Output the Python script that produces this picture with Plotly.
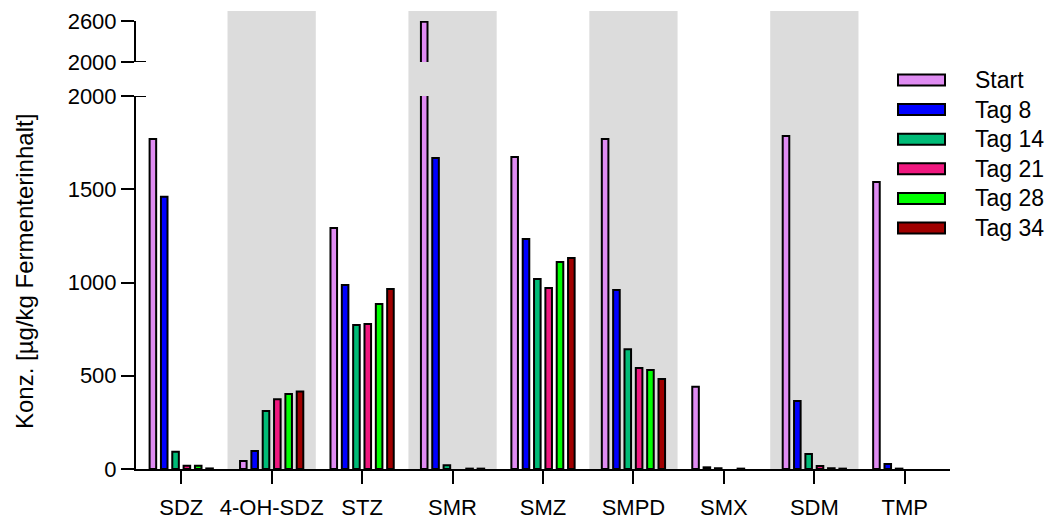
import plotly.graph_objects as go

categories = ["SDZ", "4-OH-SDZ", "STZ", "SMR", "SMZ", "SMPD", "SMX", "SDM", "TMP"]
series_names = ["Start", "Tag 8", "Tag 14", "Tag 21", "Tag 28", "Tag 34"]
start = [1770, 43, 1292, 2590, 1673, 1769, 441, 1786, 1539]
tag8 = [1460, 97, 987, 1668, 1233, 960, 9, 365, 27]
tag14 = [93, 311, 772, 20, 1019, 642, 4, 80, 2]
tag21 = [18, 374, 778, None, 970, 541, None, 16, None]
tag28 = [18, 402, 885, 2, 1110, 531, 2, 4, None]
tag34 = [3, 415, 965, 2, 1131, 483, None, 2, None]
series_values = [start, tag8, tag14, tag21, tag28, tag34]
colors = ["#DF8CF2", "#0000FF", "#00BB77", "#F0187F", "#00FF00", "#A00000"]
shaded = ["4-OH-SDZ", "SMR", "SMPD", "SDM"]
lower_ticks = [0, 500, 1000, 1500, 2000]
upper_ticks = [2000, 2600]

W, H = 1055, 522
L, R, T, B = 136, 105, 0, 53
PH = H - T - B  # 469
PW = W - L - R  # 814


def py(pix):
    return (PH - pix) / PH


def px(pix):
    return (pix - L) / PW


FONT = "Arial, Liberation Sans, sans-serif"

fig = go.Figure()
for name, vals, col in zip(series_names, series_values, colors):
    for ya in ["y", "y2"]:
        fig.add_trace(go.Bar(
            x=categories, y=vals, name=name, xaxis="x", yaxis=ya,
            marker=dict(color=col, line=dict(color="black", width=2)),
            showlegend=False, hoverinfo="x+y+name",
        ))

shapes = []
for c in shaded:
    i = categories.index(c)
    shapes.append(dict(type="rect", xref="x", yref="paper", x0=i - 0.488, x1=i + 0.488,
                       y0=0, y1=py(11), fillcolor="#DCDCDC", line=dict(width=0), layer="below"))
# axis break markers (tick extensions to the right)
for yr in ["y", "y2"]:
    shapes.append(dict(type="line", xref="paper", yref=yr, x0=0, x1=px(146), y0=2000, y1=2000,
                       line=dict(color="black", width=2)))

annotations = []
leg_y = [80, 109.6, 139.2, 168.8, 198.4, 228]
for name, col, yc in zip(series_names, colors, leg_y):
    shapes.append(dict(type="rect", xref="paper", yref="paper", x0=px(898), x1=px(945),
                       y0=py(yc + 5.5), y1=py(yc - 5.5), fillcolor=col,
                       line=dict(color="black", width=2)))
    annotations.append(dict(xref="paper", yref="paper", x=px(973), y=py(yc), text=name,
                            showarrow=False, xanchor="left", yanchor="middle",
                            font=dict(size=23, color="black", family=FONT)))

annotations.append(dict(xref="paper", yref="paper", x=px(24), y=py(272),
                        text="Konz. [µg/kg Fermenterinhalt]", textangle=-90, showarrow=False,
                        xanchor="center", yanchor="middle",
                        font=dict(size=24, color="black", family=FONT)))

axis_common = dict(showline=True, linecolor="black", linewidth=2, ticks="outside",
                   ticklen=13, tickwidth=2, tickcolor="black", showgrid=False, zeroline=False,
                   automargin=False)

fig.update_layout(
    width=W, height=H,
    margin=dict(l=L, r=R, t=T, b=B, pad=0, autoexpand=False),
    paper_bgcolor="white", plot_bgcolor="rgba(0,0,0,0)",
    barmode="group", bargap=0.248, bargroupgap=0.42,
    showlegend=False,
    font=dict(family=FONT, color="black"),
    xaxis=dict(type="category", range=[-0.5, 8.5], anchor="y", ticklabelstandoff=5,
               tickfont=dict(size=22, color="black", family=FONT), **axis_common),
    yaxis=dict(domain=[0, py(96)], range=[0, 2000], tickvals=lower_ticks,
               ticktext=[str(v) for v in lower_ticks], anchor="x",
               tickfont=dict(size=22, color="black", family=FONT), **axis_common),
    yaxis2=dict(domain=[py(62), py(21)], range=[2000, 2600], tickvals=upper_ticks,
                ticktext=[str(v) for v in upper_ticks], anchor="x",
                tickfont=dict(size=22, color="black", family=FONT), **axis_common),
    shapes=shapes, annotations=annotations,
)

fig.write_html("out.html")
